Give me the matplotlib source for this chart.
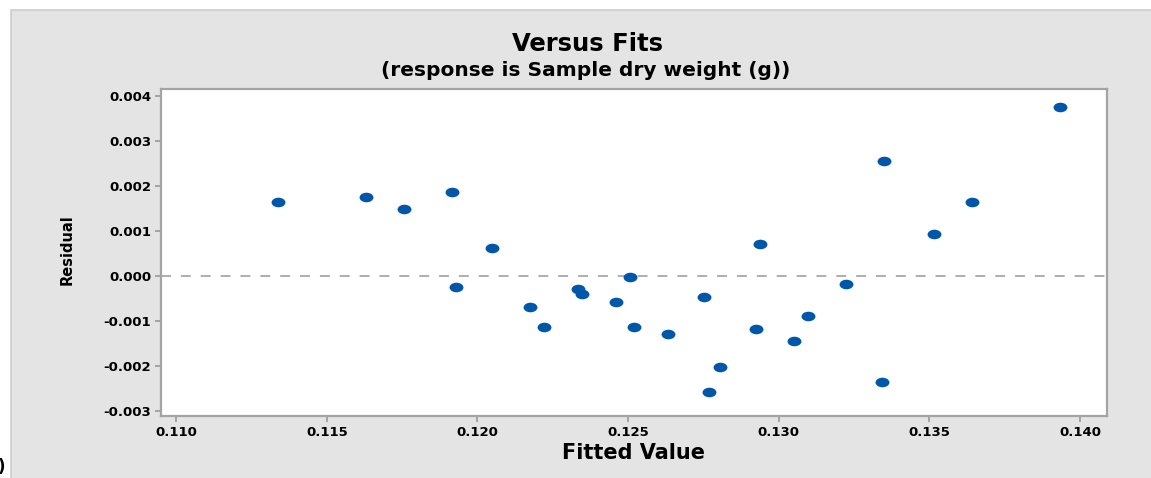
import numpy as np
import matplotlib
matplotlib.use("Agg")
import matplotlib.pyplot as plt
from matplotlib.patches import Rectangle
from matplotlib.path import Path
from matplotlib.transforms import Affine2D

# fitted values and residuals
fitted = [0.11339, 0.11631, 0.11756, 0.11916, 0.11929, 0.12049, 0.12175, 0.12222,
          0.12335, 0.12348, 0.12460, 0.12507, 0.12519, 0.12633, 0.12752, 0.12767,
          0.12806, 0.12924, 0.12938, 0.13051, 0.13098, 0.13223, 0.13349, 0.13343,
          0.13516, 0.13642, 0.13933]
residual = [0.00165, 0.00176, 0.00148, 0.00186, -0.00024, 0.00061, -0.00069, -0.00113,
            -0.00030, -0.00040, -0.00058, -0.00002, -0.00113, -0.00129, -0.00047, -0.00258,
            -0.00203, -0.00118, 0.00071, -0.00145, -0.00090, -0.00018, 0.00255, -0.00236,
            0.00093, 0.00165, 0.00376]
x_ticks = [0.110, 0.115, 0.120, 0.125, 0.130, 0.135, 0.140]
y_ticks = [-0.003, -0.002, -0.001, 0.000, 0.001, 0.002, 0.003, 0.004]

plt.rcParams['font.family'] = ['DejaVu Sans']
plt.rcParams['font.weight'] = 'bold'
plt.rcParams['axes.unicode_minus'] = False

fig = plt.figure(figsize=(11.51, 4.78), dpi=100)
fig.patch.set_facecolor('white')

# grey outer frame
frame = Rectangle((10.5 / 1151, -0.01), 1.0, 1 - 10.5 / 478 + 0.01, transform=fig.transFigure,
                  facecolor='#e4e4e4', edgecolor='#cdcdcd', linewidth=1.2, zorder=-10)
fig.patches.append(frame)
fig.text(-0.002, 0.005, ')', fontsize=12, color='black', ha='left', va='bottom')

ax = fig.add_axes([161 / 1151, 1 - 416 / 478, (1106.7 - 161) / 1151, (416 - 89) / 478])
ax.set_facecolor('white')

# wide oval marker like the reference
oval = Path.unit_circle().transformed(Affine2D().scale(1.45, 1.0))
ax.scatter(fitted, residual, s=100, marker=oval, color='#0056a8', linewidths=0, zorder=3)

ax.axhline(0, color='#a8a8a8', linestyle=(0, (5.5, 5.5)), linewidth=1.3, zorder=2)

ax.set_xlim(0.10950, 0.14088)
ax.set_ylim(-0.003115, 0.004153)
ax.set_xticks(x_ticks)
ax.set_yticks(y_ticks)
ax.set_xticklabels([f'{v:.3f}' for v in x_ticks])
ax.set_yticklabels([f'{v:.3f}' for v in y_ticks])

for s in ax.spines.values():
    s.set_color('#a4a4a4')
    s.set_linewidth(1.6)
ax.tick_params(axis='both', direction='out', length=4.5, width=1.4, color='#a4a4a4',
               labelsize=9.5, labelcolor='black', pad=2.5)

ax.set_xlabel('Fitted Value', fontsize=15, fontweight='bold', labelpad=3)
ax.set_ylabel('Residual', fontsize=10.5, fontweight='bold')
ax.yaxis.set_label_coords(-0.091, 0.51)

fig.text(587 / 1151, 1 - 44 / 478, 'Versus Fits', fontsize=17.5, fontweight='bold',
         ha='center', va='center')
fig.text(586 / 1151, 1 - 71 / 478, '(response is Sample dry weight (g))', fontsize=14.5,
         fontweight='bold', ha='center', va='center')

fig.savefig('out.png', dpi=100)
